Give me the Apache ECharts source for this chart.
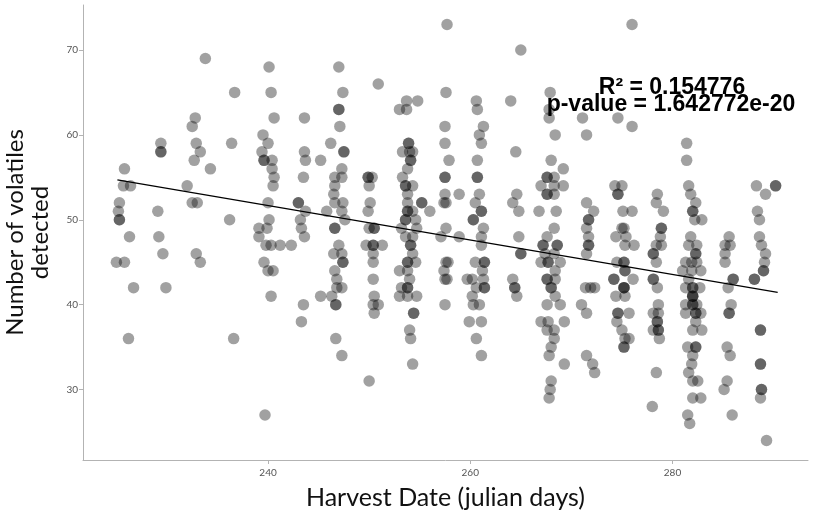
<!DOCTYPE html>
<html>
<head>
<meta charset="utf-8">
<script src="https://cdn.jsdelivr.net/npm/echarts@6/dist/echarts.min.js"></script>
<style>
  html, body { margin: 0; padding: 0; background: #fff; }
  #chart { width: 815px; height: 515px; }
</style>
</head>
<body>
<div id="chart"></div>
<script>
// [harvest day, number of volatiles]
const samples = [
  [225.8,56],[225.7,54],[226.4,54],[225.3,52],[225.2,51],[225.3,50],[225.3,50],[226.3,48],[225.0,45],[225.8,45],[226.7,42],[226.2,36],
  [229.4,59],[229.4,58],[229.4,58],[229.1,51],[229.2,48],[229.6,46],[229.9,42],
  [233.8,69],[232.8,62],[232.5,61],[232.9,59],[233.3,58],[232.7,57],[232.0,54],[232.5,52],[233.0,52],[232.9,46],[233.3,45],[234.3,56],
  [236.7,65],[236.4,59],[236.2,50],[236.6,36],
  [240.1,68],[240.3,65],[240.6,62],[239.5,60],[240.0,59],[239.4,58],[239.6,57],[239.6,57],[240.4,57],[240.4,56],[240.6,55],[240.5,54],
  [240.0,52],[240.1,50],[239.1,49],[239.9,49],[239.1,48],[239.8,47],[240.3,47],[239.6,45],[240.0,44],[240.5,44],[240.3,41],[239.7,27],
  [241.2,47],[242.3,47],
  [243.6,62],[243.6,58],[243.7,57],[243.5,55],[243.0,52],[243.0,52],[243.7,51],[243.2,50],[243.3,49],[243.6,48],[243.5,40],[243.3,38],
  [245.2,57],[245.8,51],[245.2,41],
  [247.0,68],[247.4,65],[247.0,63],[247.0,63],[247.1,61],[246.2,59],[247.5,58],[247.5,58],[247.3,56],[246.6,55],[247.3,55],[246.6,54],
  [246.5,53],[246.6,52],[247.4,52],[247.3,51],[247.6,50],[246.6,49],[246.6,49],[247.0,47],[246.5,46],[247.3,46],[247.4,45],[247.4,45],
  [246.6,44],[246.8,43],[246.8,42],[247.3,42],[246.3,41],[246.7,40],[246.7,40],[246.7,36],[247.3,34],
  [250.9,66],[249.9,55],[249.9,55],[250.3,55],[250.0,54],[250.1,52],[249.9,51],[250.5,49],[250.5,49],[250.0,49],[249.7,47],[250.4,47],
  [250.4,47],[251.3,47],[250.4,46],[250.4,45],[250.4,43],[250.5,41],[250.4,40],[250.9,40],[250.5,39],[250.0,31],
  [253.7,64],[254.8,64],[253.0,63],[253.7,63],[253.9,59],[253.9,59],[253.3,58],[254.3,58],[254.0,58],[254.1,57],[254.1,57],[253.8,56],
  [253.3,55],[253.6,54],[253.6,54],[254.3,54],[253.8,53],[253.8,52],[255.2,52],[255.2,52],[253.8,51],[253.8,51],[254.3,51],[253.6,50],
  [253.6,50],[254.6,50],[253.2,49],[254.7,49],[253.6,48],[254.3,48],[254.1,47],[254.1,47],[254.3,46],[253.8,45],[253.8,45],[254.6,45],
  [253.0,44],[253.8,44],[254.0,43],[253.2,42],[253.8,42],[253.8,42],[253.0,41],[253.8,41],[254.7,41],[254.4,39],[254.4,39],[254.0,37],
  [254.1,36],[254.3,33],[256.0,51],
  [257.7,73],[257.6,65],[257.5,61],[257.5,59],[257.9,57],[257.5,55],[257.5,55],[257.5,53],[258.9,53],[257.4,52],[257.6,52],[257.6,49],
  [257.1,48],[258.9,48],[257.6,45],[257.8,45],[257.4,44],[257.5,43],[257.7,43],[257.5,40],
  [260.6,64],[260.7,63],[261.3,61],[260.9,60],[261.1,59],[260.7,57],[260.7,55],[260.7,55],[260.9,53],[260.5,52],[261.1,51],[261.1,51],
  [260.3,50],[260.3,50],[261.3,49],[261.1,48],[261.1,47],[260.5,45],[261.4,45],[261.4,45],[261.2,44],[259.7,43],[260.2,43],[261.3,43],
  [260.6,42],[261.4,42],[261.4,42],[260.2,41],[260.3,40],[260.9,40],[259.9,38],[261.1,38],[260.6,36],[261.1,34],
  [265.0,70],[264.0,64],[264.5,58],[264.6,53],[264.2,52],[264.8,51],[264.8,48],[265.0,46],[265.0,46],[264.2,43],[264.4,42],[264.4,42],
  [264.6,41],
  [267.9,65],[267.8,63],[267.8,62],[268.4,60],[268.0,57],[269.2,56],[267.6,55],[267.6,55],[268.3,55],[267.0,54],[268.3,54],[269.2,54],
  [267.6,53],[267.6,53],[268.3,53],[266.8,51],[268.5,51],[268.3,49],[267.6,48],[267.2,47],[267.2,47],[268.6,47],[268.6,47],[267.4,46],
  [268.3,46],[267.0,45],[267.7,45],[267.7,45],[268.9,45],[268.4,44],[267.6,43],[267.6,43],[268.4,43],[268.0,42],[268.0,42],[268.4,41],
  [267.6,40],[268.9,40],[267.0,38],[267.7,38],[269.3,38],[267.6,37],[268.3,37],[268.3,36],[268.0,35],[267.8,34],[269.3,33],[268.0,31],
  [267.9,30],[267.8,29],
  [271.1,62],[271.5,60],[271.5,52],[272.2,51],[271.7,50],[271.7,50],[271.5,49],[271.7,48],[271.7,47],[271.7,47],[271.5,46],[271.4,42],
  [272.3,42],[271.9,42],[271.0,40],[271.5,39],[271.5,34],[272.1,33],[272.3,32],
  [276.0,73],[274.6,62],[276.0,61],[274.3,54],[275.0,54],[274.6,53],[274.6,53],[275.1,51],[276.0,51],[275.0,49],[275.2,49],[274.4,48],
  [275.4,48],[275.3,47],[274.5,45],[275.2,45],[275.2,45],[275.3,44],[275.3,44],[274.2,43],[274.2,43],[275.2,42],[275.2,42],[275.2,42],
  [274.4,41],[275.3,41],[274.6,39],[274.6,39],[274.5,38],[275.0,37],[275.3,36],[275.2,35],[275.2,35],[276.2,47],[276.1,43],[275.7,39],
  [275.7,36],
  [278.5,53],[278.4,52],[279.1,51],[278.9,49],[278.9,49],[278.8,48],[278.4,47],[278.9,47],[278.1,46],[278.1,46],[278.4,45],[278.1,43],
  [278.1,43],[278.5,42],[278.6,40],[278.1,39],[278.6,39],[278.5,38],[278.5,38],[278.1,37],[278.6,37],[278.6,37],[278.7,36],[278.4,32],
  [278.0,28],
  [281.4,59],[281.4,57],[281.6,54],[281.8,53],[282.3,52],[282.0,51],[282.0,51],[282.2,50],[282.9,50],[281.8,48],[281.6,47],[282.4,47],
  [282.3,46],[282.3,46],[281.3,45],[281.9,45],[282.4,45],[281.0,44],[281.9,44],[282.8,44],[281.6,43],[281.3,42],[282.0,42],[282.0,42],
  [282.7,42],[282.0,41],[282.0,41],[282.0,41],[281.3,40],[282.0,40],[282.0,40],[282.4,40],[281.3,39],[282.3,39],[282.3,39],[282.8,39],
  [282.3,38],[282.0,37],[282.9,37],[281.5,35],[282.3,35],[282.3,35],[282.0,34],[281.9,33],[281.6,32],[282.0,31],[282.5,31],[282.0,29],
  [282.8,29],[281.5,27],[281.7,26],
  [285.6,48],[285.2,47],[285.7,47],[285.2,46],[285.2,45],[286.0,43],[286.0,43],[285.5,42],[285.8,40],[285.6,39],[285.6,39],[285.4,35],
  [285.7,34],[285.4,31],[285.1,30],[285.9,27],
  [288.3,54],[290.2,54],[290.2,54],[289.2,53],[288.4,51],[288.6,50],[288.6,48],[288.8,47],[289.2,46],[289.1,45],[289.0,44],[289.0,44],
  [288.1,43],[288.1,43],[288.7,37],[288.7,37],[288.7,33],[288.7,33],[288.8,30],[288.8,30],[288.7,29],[289.3,24]
];

// fitted line end points
const trendDays = [225.1, 290.4];
const trendCounts = [54.7, 41.45];

const xTicks = [240, 260, 280];
const yTicks = [30, 40, 50, 60, 70];

const rSquaredText = 'R\u00b2 = 0.154776';
const pValueText = 'p-value = 1.642772e-20';

const chart = echarts.init(document.getElementById('chart'), null, { renderer: 'canvas' });

const axisLineStyle = { color: '#b3b3b3', width: 1 };

const option = {
  animation: false,
  backgroundColor: '#ffffff',
  grid: { left: 83, right: 7, top: 5, bottom: 55, containLabel: false, outerBoundsMode: 'none' },
  xAxis: {
    type: 'value',
    min: 221.7,
    max: 293.4,
    name: 'Harvest Date (julian days)',
    nameLocation: 'middle',
    nameGap: 25,
    nameTextStyle: { fontFamily: 'Lato', fontSize: 25, color: '#111' },
    axisLine: { lineStyle: axisLineStyle },
    axisTick: { customValues: xTicks, length: 4, lineStyle: axisLineStyle },
    axisLabel: { customValues: xTicks, fontFamily: 'Lato', fontSize: 10, color: '#555', margin: 8 },
    splitLine: { show: false }
  },
  yAxis: {
    type: 'value',
    min: 21.7,
    max: 75.3,
    name: 'Number of volatiles\ndetected',
    nameLocation: 'middle',
    nameGap: 30,
    nameTextStyle: { fontFamily: 'Lato', fontSize: 24, lineHeight: 25, color: '#111' },
    axisLine: { show: true, lineStyle: axisLineStyle },
    axisTick: { show: true, customValues: yTicks, length: 4, lineStyle: axisLineStyle },
    axisLabel: { customValues: yTicks, fontFamily: 'Lato', fontSize: 10, color: '#555', margin: 5 },
    splitLine: { show: false }
  },
  series: [
    {
      type: 'scatter',
      data: samples,
      symbolSize: 11.5,
      itemStyle: { color: 'rgba(0,0,0,0.46)' },
      silent: true
    },
    {
      type: 'line',
      data: trendDays.map((d, i) => [d, trendCounts[i]]),
      symbol: 'none',
      silent: true,
      lineStyle: { color: '#000', width: 1.2 },
      z: 5
    }
  ],
  graphic: [
    {
      type: 'text',
      x: 672,
      y: 87.5,
      style: {
        text: rSquaredText,
        fontFamily: 'Liberation Sans',
        fontWeight: 'bold',
        fontSize: 23,
        fill: '#000',
        align: 'center',
        verticalAlign: 'middle'
      },
      z: 10
    },
    {
      type: 'text',
      x: 671,
      y: 104.5,
      style: {
        text: pValueText,
        fontFamily: 'Liberation Sans',
        fontWeight: 'bold',
        fontSize: 23,
        fill: '#000',
        align: 'center',
        verticalAlign: 'middle'
      },
      z: 10
    }
  ]
};

chart.setOption(option);
</script>
</body>
</html>
